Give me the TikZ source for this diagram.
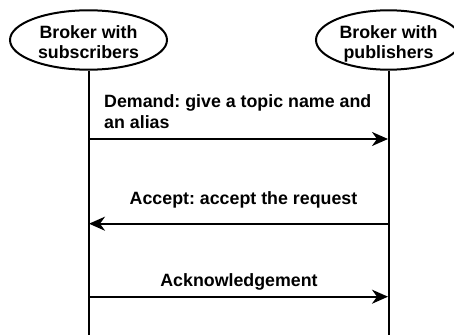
\documentclass[tikz,border=0pt]{standalone}
\usepackage{fontspec}
\setmainfont{Liberation Sans}
\frenchspacing
\usetikzlibrary{shapes.geometric,arrows.meta}
\tikzset{
  actor/.style={ellipse, draw, line width=2pt, inner sep=0pt, align=center,
    minimum height=59.4pt, text height=36.8pt, text depth=0pt,
    font=\fontsize{17.8}{20.2}\selectfont\bfseries},
  lifeline/.style={line width=2pt},
  msg/.style={line width=2pt, -{Stealth[length=16pt,width=14pt,inset=5pt]}, shorten >=0.5pt},
  msglabel/.style={inner sep=0pt, font=\fontsize{17.8}{20.5}\selectfont\bfseries}
}
\begin{document}
\begin{tikzpicture}[x=1pt,y=1pt]
\useasboundingbox (0,0) rectangle (454,-334);
\clip (0,0) rectangle (454,-334);
\node[actor, minimum width=157pt] (sub) at (88.5,-40) {Broker with\\subscribers};
\node[actor, minimum width=145pt] (pub) at (388.5,-40) {Broker with\\publishers};
\coordinate (subend) at (88.5,-340);
\coordinate (pubend) at (388.5,-340);
\draw[lifeline] (sub.south) -- (subend);
\draw[lifeline] (pub.south) -- (pubend);
\coordinate (l1) at (88.5,-139);
\coordinate (r1) at (388.5,-139);
\coordinate (l2) at (88.5,-223.7);
\coordinate (r2) at (388.5,-223.7);
\coordinate (l3) at (88.5,-296.7);
\coordinate (r3) at (388.5,-296.7);
\draw[msg] (l1) -- (r1);
\draw[msg] (r2) -- (l2);
\draw[msg] (l3) -- (r3);
\node[msglabel, align=left, anchor=north west, text height=33.3pt, text depth=0pt] (demand) at (104,-94.7) {Demand: give a topic name and\\an alias};
\node[msglabel, anchor=base] (accept) at (243.5,-204.3) {Accept: accept the request};
\node[msglabel, anchor=base] (ack) at (239,-286.7) {Acknowledgement};
\end{tikzpicture}
\end{document}
